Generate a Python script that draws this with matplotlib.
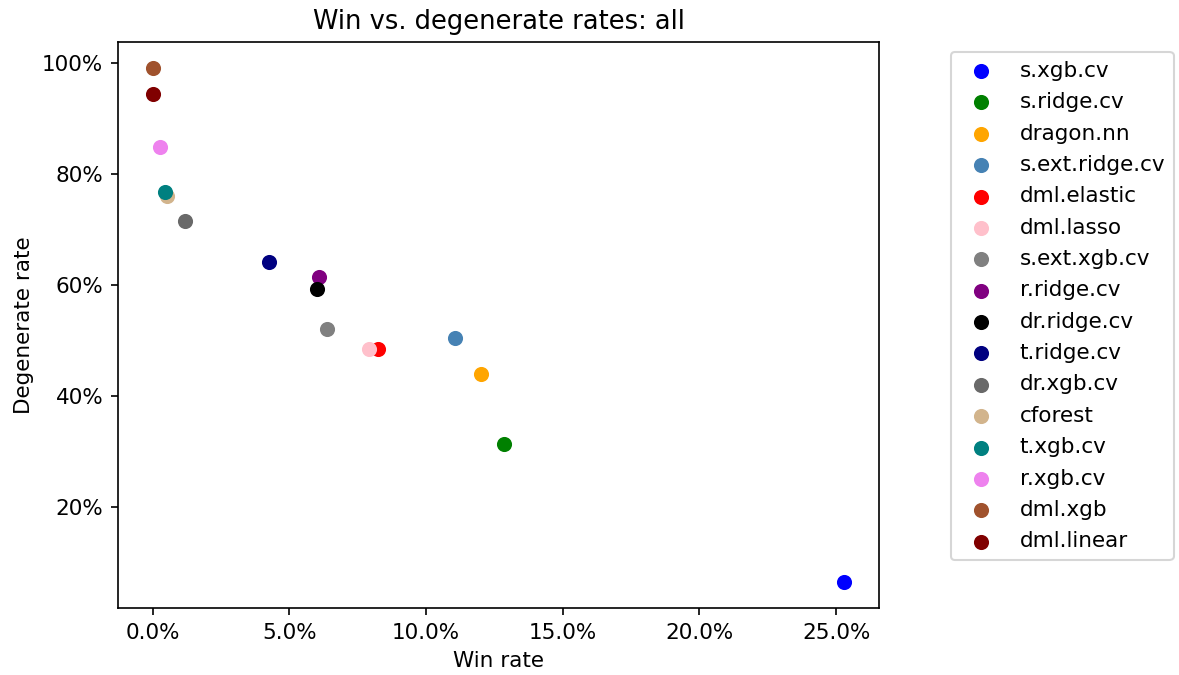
import matplotlib
matplotlib.use("Agg")
import matplotlib.pyplot as plt
from matplotlib.ticker import PercentFormatter

names = ["s.xgb.cv", "s.ridge.cv", "dragon.nn", "s.ext.ridge.cv", "dml.elastic",
         "dml.lasso", "s.ext.xgb.cv", "r.ridge.cv", "dr.ridge.cv", "t.ridge.cv",
         "dr.xgb.cv", "cforest", "t.xgb.cv", "r.xgb.cv", "dml.xgb", "dml.linear"]
win_rate = [0.253, 0.1285, 0.120, 0.1106, 0.0825, 0.0792, 0.0639, 0.0609, 0.0602,
            0.0427, 0.0117, 0.0051, 0.0044, 0.0026, 0.0, 0.0]
degen_rate = [0.065, 0.313, 0.439, 0.505, 0.485, 0.485, 0.521, 0.614, 0.593,
              0.641, 0.715, 0.761, 0.767, 0.848, 0.991, 0.943]
colors = ["blue", "green", "orange", "steelblue", "red", "pink", "gray", "purple",
          "black", "navy", "dimgray", "tan", "teal", "violet", "sienna", "maroon"]

plt.rcParams["font.size"] = 10.3

fig = plt.figure(figsize=(7.86, 4.5), dpi=150)
ax = fig.add_axes([0.1001, 0.0993, 0.6454, 0.8385])
for n, x, y, c in zip(names, win_rate, degen_rate, colors):
    ax.scatter(x, y, color=c, label=n, s=39)
ax.xaxis.set_major_formatter(PercentFormatter(1.0, decimals=1))
ax.yaxis.set_major_formatter(PercentFormatter(1.0, decimals=0))
ax.set_xlabel("Win rate")
ax.set_ylabel("Degenerate rate")
ax.set_title("Win vs. degenerate rates: all")
ax.legend(loc="upper left", bbox_to_anchor=(1.0945, 0.982), borderaxespad=0,
          labelspacing=0.53)
fig.savefig("out.png", dpi=150)
